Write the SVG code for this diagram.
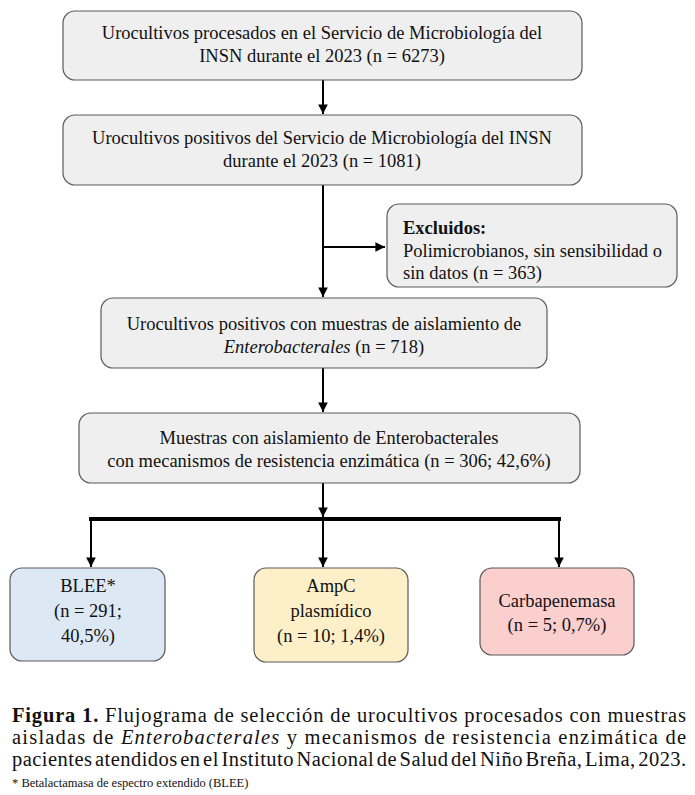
<svg xmlns="http://www.w3.org/2000/svg" width="695" height="795" viewBox="0 0 695 795">
<style>
.box{fill:#efefef;stroke:#5a5a5a;stroke-width:1.2}
.t{font-family:"Liberation Serif","Times New Roman",serif;font-size:18.5px;fill:#111;text-anchor:middle}
.tl{font-family:"Liberation Serif","Times New Roman",serif;font-size:18.5px;fill:#111}
.ln{stroke:#000;stroke-width:2;fill:none}
.cap{font-family:"Liberation Serif","Times New Roman",serif;font-size:20.5px;fill:#111}
</style>
<defs>
<marker id="ah" viewBox="0 0 10 10" refX="10" refY="5" markerWidth="4.8" markerHeight="4.8" orient="auto" markerUnits="strokeWidth">
<path d="M0,0 L10,5 L0,10 z" fill="#000"/>
</marker>
</defs>
<rect width="695" height="795" fill="#fff"/>
<g id="connectors">
<line class="ln" x1="323" y1="80" x2="323" y2="114" marker-end="url(#ah)"/>
<line class="ln" x1="323" y1="185" x2="323" y2="297" marker-end="url(#ah)"/>
<line class="ln" x1="323" y1="247" x2="385" y2="247" marker-end="url(#ah)"/>
<line class="ln" x1="323" y1="368" x2="323" y2="412" marker-end="url(#ah)"/>
<line class="ln" x1="323" y1="483" x2="323" y2="517" marker-end="url(#ah)"/>
<line x1="89" y1="519" x2="561" y2="519" stroke="#000" stroke-width="4"/>
<line class="ln" x1="91" y1="519" x2="91" y2="567" marker-end="url(#ah)"/>
<line class="ln" x1="323" y1="519" x2="323" y2="567" marker-end="url(#ah)"/>
<line class="ln" x1="559" y1="519" x2="559" y2="567" marker-end="url(#ah)"/>
</g>
<g id="n1">
<rect class="box" x="63" y="11" width="519" height="69" rx="12"/>
<text class="t" x="322" y="39">Urocultivos procesados en el Servicio de Microbiología del</text>
<text class="t" x="322" y="62">INSN durante el 2023 (n = 6273)</text>
</g>
<g id="n2">
<rect class="box" x="63" y="115" width="519" height="70" rx="12"/>
<text class="t" x="322" y="144">Urocultivos positivos del Servicio de Microbiología del INSN</text>
<text class="t" x="322" y="167">durante el 2023 (n = 1081)</text>
</g>
<g id="n_excl">
<rect class="box" x="387" y="204" width="290" height="83" rx="12"/>
<text class="tl" x="403" y="234" font-weight="bold">Excluidos:</text>
<text class="tl" x="403" y="257">Polimicrobianos, sin sensibilidad o</text>
<text class="tl" x="403" y="279">sin datos (n = 363)</text>
</g>
<g id="n3">
<rect class="box" x="101" y="298" width="446" height="70" rx="12"/>
<text class="t" x="324" y="330">Urocultivos positivos con muestras de aislamiento de</text>
<text class="t" x="324" y="353"><tspan font-style="italic">Enterobacterales</tspan> (n = 718)</text>
</g>
<g id="n4">
<rect class="box" x="79" y="413" width="501" height="70" rx="12"/>
<text class="t" x="329" y="444">Muestras con aislamiento de Enterobacterales</text>
<text class="t" x="329" y="467">con mecanismos de resistencia enzimática (n = 306; 42,6%)</text>
</g>
<g id="n_blee">
<rect class="box" x="10" y="568" width="155" height="93" rx="12" style="fill:#dde8f5"/>
<text class="t" x="88" y="592">BLEE*</text>
<text class="t" x="88" y="617">(n = 291;</text>
<text class="t" x="88" y="642">40,5%)</text>
</g>
<g id="n_ampc">
<rect class="box" x="254" y="568" width="154" height="94" rx="12" style="fill:#fdf0c9"/>
<text class="t" x="331" y="592">AmpC</text>
<text class="t" x="331" y="617">plasmídico</text>
<text class="t" x="331" y="642">(n = 10; 1,4%)</text>
</g>
<g id="n_carba">
<rect class="box" x="480" y="568" width="154" height="87" rx="12" style="fill:#fccfcf"/>
<text class="t" x="557" y="607">Carbapenemasa</text>
<text class="t" x="557" y="631">(n = 5; 0,7%)</text>
</g>
<g id="caption">
<text class="cap" x="12" y="722" textLength="674" lengthAdjust="spacing"><tspan font-weight="bold">Figura 1.</tspan> Flujograma de selección de urocultivos procesados con muestras</text>
<text class="cap" x="12" y="744" textLength="674" lengthAdjust="spacing">aisladas de <tspan font-style="italic">Enterobacterales</tspan> y mecanismos de resistencia enzimática de</text>
<text class="cap" x="12" y="766" textLength="674" lengthAdjust="spacing" word-spacing="-3" letter-spacing="-0.2">pacientes atendidos en el Instituto Nacional de Salud del Niño Breña, Lima, 2023.</text>
<text x="12" y="787" font-family="Liberation Serif, Times New Roman, serif" font-size="12.5" fill="#111">* Betalactamasa de espectro extendido (BLEE)</text>
</g>
</svg>
